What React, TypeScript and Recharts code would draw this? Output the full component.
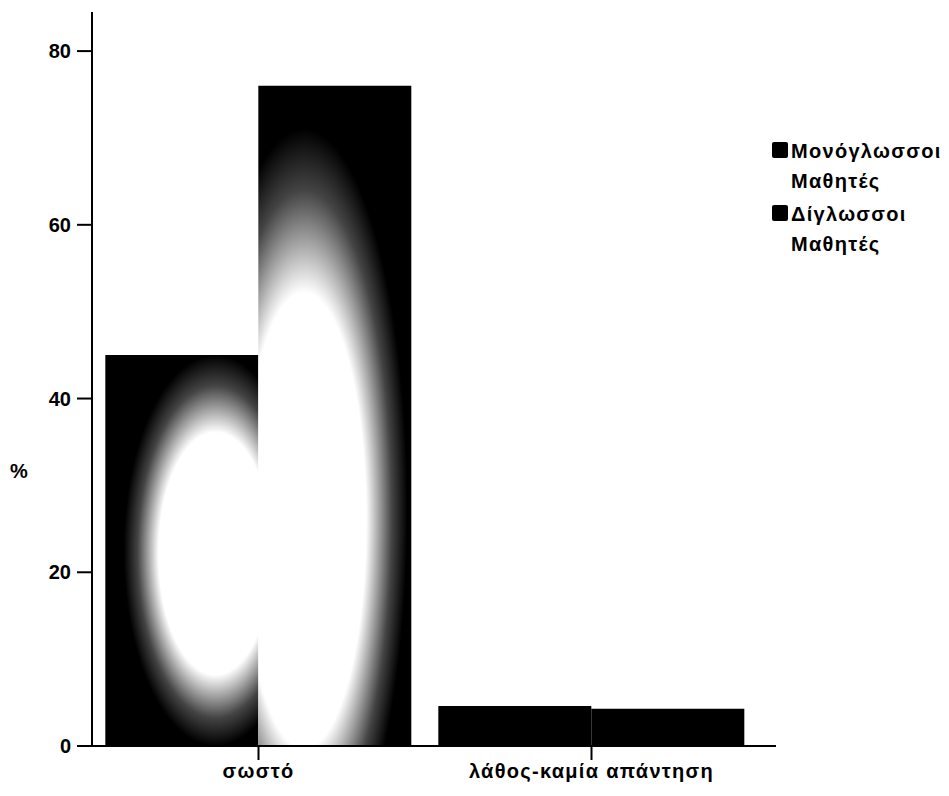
import React from 'react';
import { BarChart, Bar, XAxis, YAxis, Legend, Cell } from 'recharts';

// Answer categories
const categories: string[] = ['σωστό', 'λάθος-καμία απάντηση'];
// Percentage of students per answer
const monolingual: number[] = [45, 4.6];
const bilingual: number[] = [76, 4.3];
// Series names and axis ticks
const seriesNames: string[] = ['Μονόγλωσσοι Μαθητές', 'Δίγλωσσοι Μαθητές'];
const yTicks: number[] = [0, 20, 40, 60, 80];

const data = categories.map((c, i) => ({
  name: c,
  mono: monolingual[i],
  bi: bilingual[i],
}));

const FONT = '"Liberation Sans", Arial, sans-serif';

// Fills for the tall bars: black with a soft white glow inside
const monoFills = ['url(#glowMono)', '#000'];
const biFills = ['url(#glowBi)', '#000'];

const LegendBox = () => (
  <div style={{ fontFamily: FONT, fontSize: 20, fontWeight: 'bold', color: '#000', lineHeight: '30px', letterSpacing: 1.3 }}>
    {seriesNames.map((n) => {
      const [a, b] = n.split(' ');
      return (
        <div key={n} style={{ display: 'flex', alignItems: 'flex-start', marginBottom: 3 }}>
          <div style={{ width: 16, height: 16, background: '#000', marginTop: 6, marginRight: 3, borderRadius: 2 }} />
          <div>
            <div>{a}</div>
            <div>{b}</div>
          </div>
        </div>
      );
    })}
  </div>
);

export default function App() {
  return (
    <div style={{ position: 'absolute', left: 0, top: 0, background: '#fff' }}>
      <BarChart
        width={949}
        height={796}
        data={data}
        margin={{ top: 12, right: 173, bottom: 20, left: 32 }}
        barCategoryGap="4%"
        barGap={0}
      >
        <defs>
          <radialGradient id="glowMono" cx="0.72" cy="0.5" r="0.5" fx="0.72" fy="0.52" gradientTransform="translate(0.72 0.5) scale(1.2 1.0) translate(-0.72 -0.5)">
            <stop offset="0" stopColor="#fff" />
            <stop offset="0.62" stopColor="#fff" />
            <stop offset="0.85" stopColor="#444" />
            <stop offset="1" stopColor="#000" />
          </radialGradient>
          <radialGradient id="glowBi" cx="0.3" cy="0.64" r="0.5" fx="0.3" fy="0.68" gradientTransform="translate(0.3 0.64) scale(1.35 1.15) translate(-0.3 -0.64)">
            <stop offset="0" stopColor="#fff" />
            <stop offset="0.6" stopColor="#fff" />
            <stop offset="0.85" stopColor="#444" />
            <stop offset="1" stopColor="#000" />
          </radialGradient>
        </defs>
        <XAxis
          dataKey="name"
          height={30}
          axisLine={{ stroke: '#000', strokeWidth: 2 }}
          tickLine={{ stroke: '#000', strokeWidth: 2 }}
          tickSize={14}
          tick={{ fill: '#000', fontSize: 20, fontWeight: 'bold', fontFamily: FONT, letterSpacing: 1.3 }}
          tickMargin={4}
          padding={{ left: 0, right: 18 }}
        />
        <YAxis
          width={60}
          domain={[0, 84.5]}
          ticks={yTicks}
          axisLine={{ stroke: '#000', strokeWidth: 2 }}
          tickLine={{ stroke: '#000', strokeWidth: 2 }}
          tickSize={15}
          tickMargin={6}
          tick={{ fill: '#000', fontSize: 20, fontWeight: 'bold', fontFamily: FONT }}
          label={{
            content: () => (
              <text x={10} y={478} fontSize={20} fontWeight="bold" fontFamily={FONT} fill="#000">%</text>
            ),
          }}
        />
        <Legend
          layout="horizontal"
          verticalAlign="middle"
          align="center"
          content={<LegendBox />}
          wrapperStyle={{ position: 'absolute', left: 772, top: 136, width: 177 }}
        />
        <Bar dataKey="mono" name={seriesNames[0]} isAnimationActive={false}>
          {data.map((_, i) => (
            <Cell key={i} fill={monoFills[i]} />
          ))}
        </Bar>
        <Bar dataKey="bi" name={seriesNames[1]} isAnimationActive={false}>
          {data.map((_, i) => (
            <Cell key={i} fill={biFills[i]} />
          ))}
        </Bar>
      </BarChart>
    </div>
  );
}
